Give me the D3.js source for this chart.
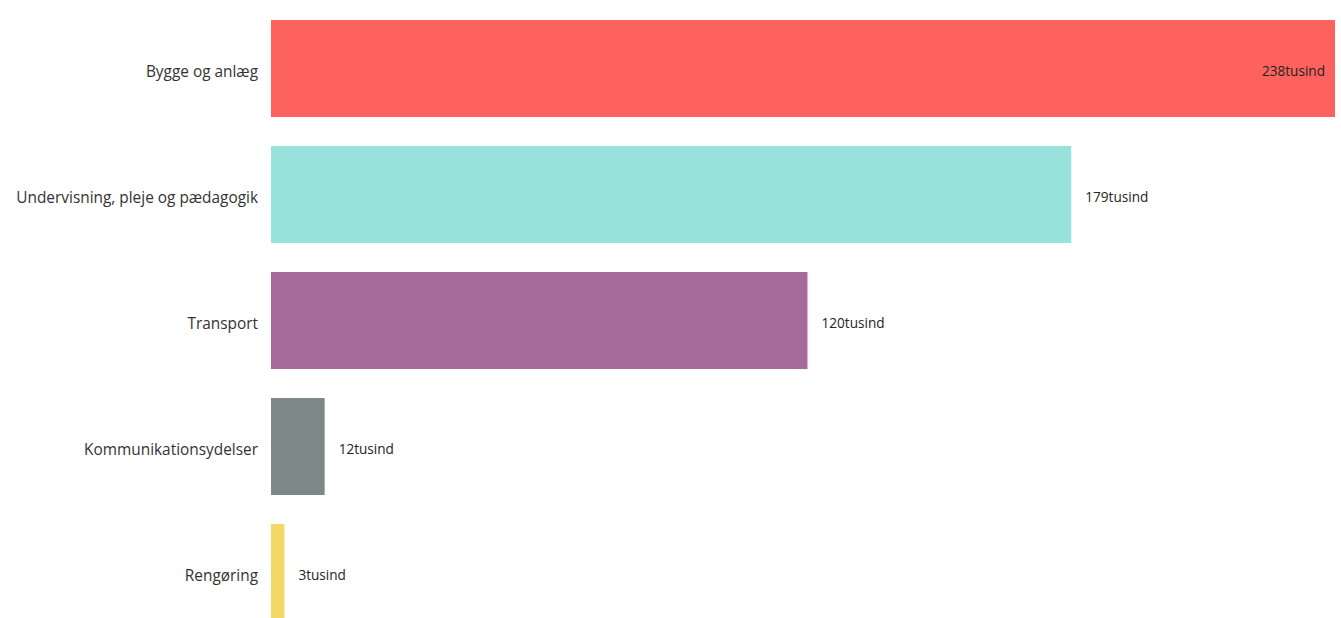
<!DOCTYPE html>
<html>
<head>
<meta charset="utf-8">
<script src="https://cdn.jsdelivr.net/npm/d3@7"></script>
<style>
  body { margin: 0; background: #fff; }
  svg { display: block; }
</style>
</head>
<body>
<div id="chart"></div>
<script>
// data (thousands)
const categories = ["Bygge og anlæg", "Undervisning, pleje og pædagogik", "Transport", "Kommunikationsydelser", "Rengøring"];
const values = [238, 179, 120, 12, 3];
const valueLabels = ["238tusind", "179tusind", "120tusind", "12tusind", "3tusind"];
const colors = ["#FD625E", "#97E2DA", "#A66999", "#7F8889", "#F4D865"];

const W = 1341, H = 618;
const left = 271, right = 1335;

const svg = d3.select("#chart").append("svg")
    .attr("width", W)
    .attr("height", H);

const data = categories.map((c, i) => ({ cat: c, value: values[i], label: valueLabels[i], color: colors[i] }));

const x = d3.scaleLinear()
    .domain([0, d3.max(values)])
    .range([left, right]);

const y = d3.scaleBand()
    .domain(categories)
    .range([20, 621])
    .paddingInner(0.23)
    .paddingOuter(0);

// category axis
const yAxis = svg.append("g")
    .attr("transform", "translate(" + left + ",0)")
    .call(d3.axisLeft(y).tickSize(0).tickPadding(13));
yAxis.select(".domain").remove();
yAxis.selectAll("text")
    .attr("dy", "0.55em")
    .style("font-family", "'Open Sans', sans-serif")
    .style("font-size", "15.4px")
    .attr("fill", "#333333");

// bars
svg.selectAll("rect.bar")
    .data(data)
    .enter()
    .append("rect")
    .attr("class", "bar")
    .attr("x", x(0))
    .attr("y", d => y(d.cat))
    .attr("width", d => x(d.value) - x(0))
    .attr("height", y.bandwidth())
    .attr("fill", d => d.color);

// value labels: inside for the longest bar, outside otherwise
svg.selectAll("text.val")
    .data(data)
    .enter()
    .append("text")
    .attr("class", "val")
    .attr("x", d => d.value === d3.max(values) ? x(d.value) - 10 : x(d.value) + 14)
    .attr("y", d => y(d.cat) + y.bandwidth() / 2)
    .attr("dy", "0.55em")
    .attr("text-anchor", d => d.value === d3.max(values) ? "end" : "start")
    .style("font-family", "'Open Sans', sans-serif")
    .style("font-size", "13.6px")
    .attr("fill", "#252423")
    .text(d => d.label);
</script>
</body>
</html>
